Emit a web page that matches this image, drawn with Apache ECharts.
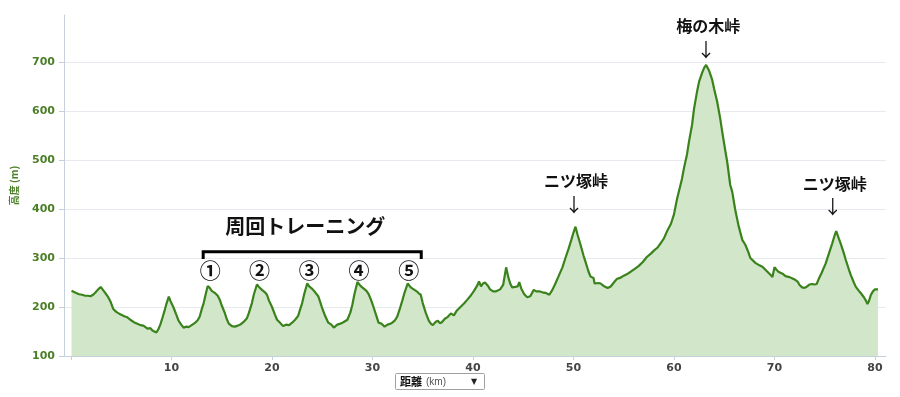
<!DOCTYPE html>
<html>
<head>
<meta charset="utf-8">
<script src="https://cdn.jsdelivr.net/npm/echarts@6/dist/echarts.min.js"></script>
<style>
  html, body { margin: 0; padding: 0; background: #fff; }
  #profile { width: 900px; height: 397px; }
</style>
</head>
<body>
<div id="profile"></div>
<script>
// 距離 (km)
var distKm = [
  0.05, 0.2, 0.35, 0.5, 0.8, 1.1, 1.4, 1.7, 1.94, 2.2, 2.4, 2.7, 2.95, 3.1, 3.4, 3.7, 3.95, 4.2, 4.5, 4.9,
  5.3, 5.6, 5.9, 6.25, 6.6, 6.9, 7.2, 7.6, 7.9, 8.1, 8.25, 8.5, 8.7, 8.9, 9.1, 9.3, 9.5, 9.73, 9.9, 10.2,
  10.5, 10.7, 11.0, 11.2, 11.5, 11.7, 12.0, 12.3, 12.6, 12.8, 13.0, 13.2, 13.4, 13.6, 13.8, 14.0, 14.3, 14.6, 14.8, 15.0,
  15.3, 15.5, 15.7, 16.0, 16.3, 16.6, 16.9, 17.2, 17.5, 17.7, 18.0, 18.2, 18.5, 18.7, 19.0, 19.3, 19.5, 19.7, 20.0, 20.3,
  20.5, 20.8, 21.1, 21.4, 21.7, 22.0, 22.3, 22.6, 22.8, 23.0, 23.2, 23.5, 23.7, 24.0, 24.3, 24.6, 24.8, 25.0, 25.3, 25.6,
  25.9, 26.15, 26.5, 26.8, 27.1, 27.5, 27.8, 28.0, 28.2, 28.5, 28.8, 29.1, 29.4, 29.6, 29.9, 30.1, 30.4, 30.6, 30.9, 31.2,
  31.5, 31.9, 32.2, 32.45, 32.7, 32.95, 33.2, 33.5, 33.8, 34.1, 34.4, 34.6, 34.8, 35.0, 35.3, 35.6, 35.8, 36.0, 36.3, 36.5,
  36.7, 36.9, 37.2, 37.5, 37.8, 38.1, 38.4, 38.8, 39.1, 39.4, 39.8, 40.1, 40.4, 40.6, 40.8, 41.0, 41.2, 41.5, 41.7, 42.0,
  42.3, 42.7, 43.0, 43.3, 43.5, 43.7, 43.9, 44.2, 44.45, 44.6, 44.8, 45.1, 45.4, 45.7, 46.05, 46.3, 46.6, 46.9, 47.2, 47.6,
  47.9, 48.2, 48.5, 48.9, 49.2, 49.5, 49.8, 50.0, 50.2, 50.4, 50.7, 51.0, 51.2, 51.5, 51.7, 52.0, 52.1, 52.2, 52.5, 52.7,
  53.0, 53.4, 53.7, 53.9, 54.1, 54.3, 54.7, 55.0, 55.4, 55.7, 56.1, 56.5, 56.9, 57.3, 57.7, 58.0, 58.4, 58.7, 59.0, 59.3,
  59.7, 60.0, 60.3, 60.5, 60.8, 61.0, 61.3, 61.5, 61.8, 62.0, 62.3, 62.5, 62.8, 63.0, 63.2, 63.5, 63.8, 64.0, 64.3, 64.6,
  64.8, 65.1, 65.3, 65.6, 65.8, 66.1, 66.45, 66.8, 67.1, 67.4, 67.6, 68.1, 68.5, 68.8, 69.1, 69.3, 69.6, 69.8, 69.9, 70.0,
  70.2, 70.4, 70.8, 71.1, 71.5, 71.8, 72.1, 72.3, 72.5, 72.75, 73.0, 73.25, 73.5, 73.75, 74.0, 74.2, 74.4, 74.7, 75.1, 75.4,
  75.75, 76.0, 76.15, 76.4, 76.6, 76.9, 77.1, 77.4, 77.6, 77.9, 78.1, 78.4, 78.6, 78.9, 79.1, 79.25, 79.4, 79.6, 79.8, 80.0,
  80.3
];
// 高度 (m)
var elevM = [
  233, 229, 230, 226, 226, 225, 223, 223, 222, 225, 229, 236, 241, 238, 229, 220, 210, 196, 190, 185,
  181, 179, 174, 169, 166, 163, 162, 156, 157, 152, 155, 148, 155, 165, 178, 192, 207, 221, 212, 199,
  183, 172, 163, 158, 160, 159, 163, 167, 173, 180, 195, 208, 226, 243, 239, 233, 229, 223, 215, 203,
  188, 175, 166, 161, 160, 162, 165, 170, 177, 188, 208, 226, 246, 241, 235, 230, 225, 213, 200, 184,
  174, 168, 161, 164, 163, 168, 174, 182, 195, 208, 226, 248, 242, 237, 230, 222, 210, 197, 181, 168,
  164, 158, 164, 166, 169, 174, 189, 205, 226, 251, 243, 238, 233, 227, 212, 200, 181, 168, 166, 160,
  164, 167, 172, 180, 195, 212, 230, 248, 240, 236, 232, 228, 225, 208, 188, 172, 166, 163, 170, 172,
  167, 169, 176, 180, 187, 183, 193, 201, 207, 214, 224, 233, 243, 252, 242, 248, 250, 243, 236, 232,
  232, 236, 245, 281, 262, 248, 240, 241, 242, 251, 238, 226, 220, 222, 235, 232, 232, 230, 229, 225,
  235, 248, 262, 281, 300, 318, 338, 352, 364, 348, 327, 305, 292, 272, 262, 259, 248, 245, 249, 248,
  243, 239, 242, 247, 252, 257, 260, 264, 268, 272, 278, 284, 292, 302, 309, 315, 322, 331, 340, 354,
  370, 389, 420, 437, 462, 484, 512, 538, 572, 605, 640, 660, 678, 688, 694, 682, 664, 645, 619, 585,
  558, 520, 496, 449, 435, 398, 364, 337, 327, 312, 300, 290, 285, 282, 276, 272, 266, 261, 262, 281,
  276, 272, 268, 263, 261, 258, 255, 252, 245, 240, 239, 242, 246, 247, 246, 247, 257, 270, 289, 308,
  330, 347, 355, 340, 329, 310, 296, 277, 265, 250, 241, 233, 228, 220, 213, 206, 212, 225, 232, 236,
  236
];

// 峠の注記
var passNames = ['ニツ塚峠', '梅の木峠', 'ニツ塚峠'];
var passKm = [50.25, 63.4, 76.0];
var passTextM = [457, 773, 452];
var passArrowM = [408, 724, 405];

// 周回トレーニング
var loopTitle = '周回トレーニング';
var loopMarks = ['①', '②', '③', '④', '⑤'];
var loopMarkKm = [13.85, 18.75, 23.7, 28.65, 33.6];

var lineColor = '#3a821c';
var chart = echarts.init(document.getElementById('profile'));

var option = {
  animation: false,
  grid: { left: 64, right: 14, top: 15, bottom: 41 },
  xAxis: {
    type: 'value',
    min: -0.7,
    max: 81.1,
    minInterval: 10,
    maxInterval: 10,
    axisLine: { lineStyle: { color: '#c4d0dc' } },
    axisTick: { show: true, length: 4, lineStyle: { color: '#c4d0dc' } },
    splitLine: { show: false },
    axisLabel: {
      showMinLabel: false,
      showMaxLabel: false,
      margin: 7,
      color: '#444',
      fontFamily: 'DejaVu Sans',
      fontWeight: 'bold',
      fontSize: 11,
      formatter: function (v) { return v === 0 ? '' : String(v); }
    }
  },
  yAxis: {
    type: 'value',
    min: 100,
    max: 796,
    interval: 100,
    name: '高度 (m)',
    nameLocation: 'middle',
    nameGap: 45,
    nameRotate: 90,
    nameTextStyle: { color: '#4a7f27', fontSize: 10, fontWeight: 'bold', fontFamily: 'Noto Sans CJK JP' },
    axisLine: { show: true, onZero: false, lineStyle: { color: '#c4d0dc' } },
    axisTick: { show: true, length: 5, lineStyle: { color: '#c4d0dc' } },
    axisLabel: {
      showMaxLabel: false,
      margin: 9,
      color: '#4a7f27',
      fontFamily: 'DejaVu Sans',
      fontWeight: 'bold',
      fontSize: 11
    },
    splitLine: {
      lineStyle: {
        color: ['#e6eaee', '#e6eaee', '#e6eaee', '#e6eaee', '#e6eaee', '#e6eaee', '#e6eaee', 'rgba(0,0,0,0)']
      }
    }
  },
  series: [{
    type: 'line',
    data: distKm.map(function (d, i) { return [d, elevM[i]]; }),
    showSymbol: false,
    lineStyle: { color: lineColor, width: 2.2 },
    areaStyle: { color: '#d2e7c9', opacity: 1, origin: 'start' }
  }]
};
chart.setOption(option);

function px(km, m) {
  return chart.convertToPixel({ gridIndex: 0 }, [km, m]);
}

var jpFont = '"Noto Sans CJK JP", sans-serif';
var graphics = [];

// 峠
for (var i = 0; i < passNames.length; i++) {
  var t = px(passKm[i], passTextM[i]);
  var a = px(passKm[i] - 0.2, passArrowM[i]);
  graphics.push({
    type: 'text', x: t[0], y: t[1],
    style: { text: passNames[i], font: 'bold 16px ' + jpFont, fill: '#111', align: 'center', verticalAlign: 'middle' }
  });
  graphics.push({
    type: 'text', x: a[0], y: a[1],
    style: { text: '↓', font: '19px ' + jpFont, fill: '#111', align: 'center', verticalAlign: 'middle' }
  });
}

// 周回トレーニング
var tl = px(23.3, 365);
graphics.push({
  type: 'text', x: tl[0], y: tl[1],
  style: { text: loopTitle, font: 'bold 20px ' + jpFont, fill: '#111', align: 'center', verticalAlign: 'middle' }
});
var b0 = px(13.15, 298), b1 = px(13.15, 313), b2 = px(34.85, 313), b3 = px(34.85, 298);
graphics.push({
  type: 'polyline',
  shape: { points: [b0, b1, b2, b3] },
  style: { stroke: '#000', lineWidth: 3, fill: null, lineJoin: 'miter' }
});
for (var j = 0; j < loopMarks.length; j++) {
  var c = px(loopMarkKm[j], 275);
  graphics.push({
    type: 'text', x: c[0], y: c[1],
    style: { text: loopMarks[j], font: 'bold 21px ' + jpFont, fill: '#111', align: 'center', verticalAlign: 'middle' }
  });
}

// 距離 セレクト
graphics.push({
  type: 'group', left: 395, top: 373,
  children: [
    { type: 'rect', shape: { x: 0.5, y: 0.5, width: 89, height: 16, r: 1 }, style: { fill: '#fff', stroke: '#a0a0a0', lineWidth: 1 } },
    { type: 'text', x: 5, y: 9, style: { text: '距離', font: 'bold 11px ' + jpFont, fill: '#111', verticalAlign: 'middle' } },
    { type: 'text', x: 31, y: 9, style: { text: '(km)', font: '10px "Liberation Sans", sans-serif', fill: '#555', verticalAlign: 'middle' } },
    { type: 'text', x: 79, y: 9, style: { text: '▼', font: '8px "DejaVu Sans", sans-serif', fill: '#222', align: 'center', verticalAlign: 'middle' } }
  ]
});

chart.setOption({ graphic: graphics });
</script>
</body>
</html>
